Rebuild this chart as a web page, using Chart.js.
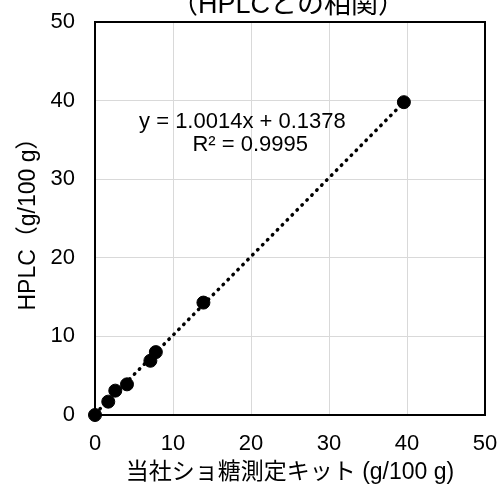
<!DOCTYPE html>
<html>
<head>
<meta charset="utf-8">
<script src="https://cdn.jsdelivr.net/npm/chart.js@4"></script>
<style>
  html, body { margin: 0; padding: 0; background: #fff; }
  #wrap { width: 504px; height: 494px; }
</style>
</head>
<body>
<div id="wrap"><canvas id="myChart" width="504" height="494"></canvas></div>
<script>
// values
const kitValues  = [0, 1.7, 2.6, 4.1, 7.1, 7.8, 13.9, 39.6];
const hplcValues = [0, 1.7, 3.1, 3.9, 6.9, 8.0, 14.3, 39.8];
const slope = 1.0014;
const intercept = 0.1378;
const eqText = 'y = 1.0014x + 0.1378';
const r2Text = 'R² = 0.9995';
const titleText = '（HPLCとの相関）';
const xTitle = '当社ショ糖測定キット (g/100 g)';
const yTitle = 'HPLC（g/100 g）';
const axisMin = 0, axisMax = 50, axisStep = 10;

const FONT = "'Liberation Sans', Arial, 'Noto Sans CJK JP', sans-serif";

const points = kitValues.map((x, i) => ({x: x, y: hplcValues[i]}));
const xLo = Math.min(...kitValues), xHi = Math.max(...kitValues);
const trend = [xLo, xHi].map(x => ({x: x, y: slope * x + intercept}));

const frame = {
  id: 'frame',
  beforeDatasetsDraw(chart) {
    const {ctx, chartArea: a} = chart;
    ctx.save();
    ctx.strokeStyle = '#000';
    ctx.lineWidth = 2;
    ctx.strokeRect(a.left, a.top, a.right - a.left, a.bottom - a.top);
    ctx.restore();
  },
  afterDraw(chart) {
    const {ctx, chartArea: a, scales} = chart;
    ctx.save();
    ctx.fillStyle = '#000';
    ctx.textAlign = 'center';
    ctx.font = '27px ' + FONT;
    ctx.textBaseline = 'alphabetic';
    ctx.fillText(titleText, 288, 13);
    ctx.font = '22px ' + FONT;
    ctx.textBaseline = 'middle';
    ctx.fillText(eqText, scales.x.getPixelForValue(18.9), scales.y.getPixelForValue(37.3));
    ctx.fillText(r2Text, scales.x.getPixelForValue(19.9), scales.y.getPixelForValue(34.4));
    ctx.restore();
  }
};

new Chart(document.getElementById('myChart'), {
  type: 'scatter',
  data: {
    datasets: [
      {
        label: 'data',
        data: points,
        backgroundColor: '#000',
        borderColor: '#000',
        pointRadius: 6.5,
        pointHoverRadius: 6.5,
        clip: false
      },
      {
        label: 'trend',
        type: 'line',
        data: trend,
        borderColor: '#000',
        borderWidth: 3.5,
        borderDash: [0.5, 6.5],
        borderCapStyle: 'round',
        pointRadius: 0,
        fill: false,
        clip: false
      }
    ]
  },
  options: {
    responsive: false,
    animation: false,
    layout: { padding: { top: 22, right: 19, left: 0, bottom: 0 } },
    plugins: { legend: { display: false }, tooltip: { enabled: false } },
    scales: {
      x: {
        type: 'linear',
        min: axisMin, max: axisMax,
        ticks: { stepSize: axisStep, color: '#000', padding: 16, font: { family: FONT, size: 22 } },
        grid: { color: '#d9d9d9', lineWidth: 1, drawTicks: false },
        border: { display: false },
        title: { display: true, text: xTitle, color: '#000', font: { family: FONT, size: 23 }, padding: { top: 0, bottom: 8 } },
        afterFit(s) { s.height = 79; s.paddingLeft = 0; s.paddingRight = 0; }
      },
      y: {
        type: 'linear',
        min: axisMin, max: axisMax,
        ticks: { stepSize: axisStep, color: '#000', padding: 20, font: { family: FONT, size: 22 } },
        grid: { color: '#d9d9d9', lineWidth: 1, drawTicks: false },
        border: { display: false },
        title: { display: true, text: yTitle, color: '#000', font: { family: FONT, size: 23 }, padding: { top: 15, bottom: 0 } },
        afterFit(s) { s.width = 95; s.paddingTop = 0; s.paddingBottom = 0; }
      }
    }
  },
  plugins: [frame]
});
</script>
</body>
</html>
